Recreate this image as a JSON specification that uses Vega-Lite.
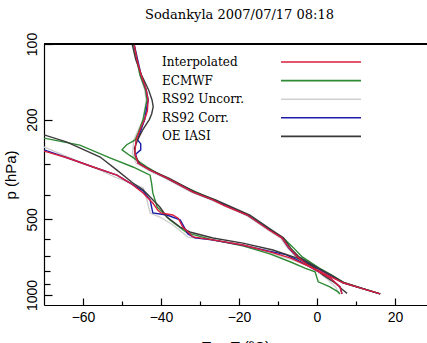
{
  "$schema": "https://vega.github.io/schema/vega-lite/v6.json",
  "width": 383,
  "height": 261,
  "autosize": {"type": "none"},
  "padding": {"left": 44, "top": 44, "right": 0, "bottom": 38},
  "background": "white",
  "title": {"text": "Sodankyla 2007/07/17 08:18", "font": "DejaVu Serif", "fontSize": 13, "fontWeight": "normal", "color": "black", "offset": 10, "dx": 4},
  "datasets": {
    "prof": [
      {"s":"RS92 Uncorr.","c":"T","p":100,"t":-47.2},{"s":"RS92 Uncorr.","c":"T","p":133,"t":-45.4},{"s":"RS92 Uncorr.","c":"T","p":152,"t":-44.2},{"s":"RS92 Uncorr.","c":"T","p":167,"t":-43.8},{"s":"RS92 Uncorr.","c":"T","p":200,"t":-44.6},{"s":"RS92 Uncorr.","c":"T","p":241,"t":-47.0},{"s":"RS92 Uncorr.","c":"T","p":272,"t":-47.3},{"s":"RS92 Uncorr.","c":"T","p":298,"t":-46.4},{"s":"RS92 Uncorr.","c":"T","p":318,"t":-43.3},{"s":"RS92 Uncorr.","c":"T","p":342,"t":-39.0},{"s":"RS92 Uncorr.","c":"T","p":389,"t":-32.3},{"s":"RS92 Uncorr.","c":"T","p":418,"t":-27.2},{"s":"RS92 Uncorr.","c":"T","p":480,"t":-18.3},{"s":"RS92 Uncorr.","c":"T","p":551,"t":-12.6},{"s":"RS92 Uncorr.","c":"T","p":592,"t":-9.4},{"s":"RS92 Uncorr.","c":"T","p":649,"t":-7.6},{"s":"RS92 Uncorr.","c":"T","p":705,"t":-5.4},{"s":"RS92 Uncorr.","c":"T","p":781,"t":-0.3},{"s":"RS92 Uncorr.","c":"T","p":833,"t":3.0},{"s":"RS92 Uncorr.","c":"T","p":894,"t":6.5},{"s":"RS92 Uncorr.","c":"T","p":936,"t":10.8},{"s":"RS92 Uncorr.","c":"T","p":990,"t":16.0},
      {"s":"RS92 Uncorr.","c":"Td","p":257,"t":-70},{"s":"RS92 Uncorr.","c":"Td","p":284,"t":-63.3},{"s":"RS92 Uncorr.","c":"Td","p":318,"t":-55.6},{"s":"RS92 Uncorr.","c":"Td","p":339,"t":-51.8},{"s":"RS92 Uncorr.","c":"Td","p":374,"t":-44.6},{"s":"RS92 Uncorr.","c":"Td","p":418,"t":-43.6},{"s":"RS92 Uncorr.","c":"Td","p":471,"t":-42.8},{"s":"RS92 Uncorr.","c":"Td","p":489,"t":-40.3},{"s":"RS92 Uncorr.","c":"Td","p":526,"t":-36.9},{"s":"RS92 Uncorr.","c":"Td","p":588,"t":-33.1},{"s":"RS92 Uncorr.","c":"Td","p":603,"t":-26.7},{"s":"RS92 Uncorr.","c":"Td","p":637,"t":-19.0},{"s":"RS92 Uncorr.","c":"Td","p":680,"t":-12.1},{"s":"RS92 Uncorr.","c":"Td","p":718,"t":-6.9},{"s":"RS92 Uncorr.","c":"Td","p":766,"t":-2.3},{"s":"RS92 Uncorr.","c":"Td","p":809,"t":0.3},{"s":"RS92 Uncorr.","c":"Td","p":870,"t":2.8},{"s":"RS92 Uncorr.","c":"Td","p":936,"t":4.9},{"s":"RS92 Uncorr.","c":"Td","p":990,"t":5.6},
      {"s":"ECMWF","c":"T","p":100,"t":-47.0},{"s":"ECMWF","c":"T","p":133,"t":-45.4},{"s":"ECMWF","c":"T","p":152,"t":-44.0},{"s":"ECMWF","c":"T","p":167,"t":-43.6},{"s":"ECMWF","c":"T","p":200,"t":-44.6},{"s":"ECMWF","c":"T","p":225,"t":-45.8},{"s":"ECMWF","c":"T","p":241,"t":-46.6},{"s":"ECMWF","c":"T","p":252,"t":-48.8},{"s":"ECMWF","c":"T","p":264,"t":-50.0},{"s":"ECMWF","c":"T","p":278,"t":-48.0},{"s":"ECMWF","c":"T","p":290,"t":-46.2},{"s":"ECMWF","c":"T","p":309,"t":-43.6},{"s":"ECMWF","c":"T","p":330,"t":-40.5},{"s":"ECMWF","c":"T","p":365,"t":-35.0},{"s":"ECMWF","c":"T","p":418,"t":-26.4},{"s":"ECMWF","c":"T","p":480,"t":-17.6},{"s":"ECMWF","c":"T","p":551,"t":-11.8},{"s":"ECMWF","c":"T","p":600,"t":-8.3},{"s":"ECMWF","c":"T","p":649,"t":-6.0},{"s":"ECMWF","c":"T","p":705,"t":-3.8},{"s":"ECMWF","c":"T","p":781,"t":0.6},{"s":"ECMWF","c":"T","p":833,"t":3.8},{"s":"ECMWF","c":"T","p":894,"t":7.0},{"s":"ECMWF","c":"T","p":936,"t":11.2},{"s":"ECMWF","c":"T","p":990,"t":16.2},
      {"s":"ECMWF","c":"Td","p":237,"t":-70},{"s":"ECMWF","c":"Td","p":253,"t":-60.8},{"s":"ECMWF","c":"Td","p":284,"t":-53.1},{"s":"ECMWF","c":"Td","p":309,"t":-47.2},{"s":"ECMWF","c":"Td","p":333,"t":-42.8},{"s":"ECMWF","c":"Td","p":360,"t":-42.4},{"s":"ECMWF","c":"Td","p":392,"t":-42.1},{"s":"ECMWF","c":"Td","p":446,"t":-41.0},{"s":"ECMWF","c":"Td","p":502,"t":-37.7},{"s":"ECMWF","c":"Td","p":566,"t":-33.3},{"s":"ECMWF","c":"Td","p":603,"t":-26.7},{"s":"ECMWF","c":"Td","p":637,"t":-19.0},{"s":"ECMWF","c":"Td","p":686,"t":-12.1},{"s":"ECMWF","c":"Td","p":737,"t":-6.9},{"s":"ECMWF","c":"Td","p":781,"t":-3.1},{"s":"ECMWF","c":"Td","p":809,"t":-0.5},{"s":"ECMWF","c":"Td","p":886,"t":0.3},{"s":"ECMWF","c":"Td","p":929,"t":3.3},{"s":"ECMWF","c":"Td","p":971,"t":5.4},{"s":"ECMWF","c":"Td","p":990,"t":5.9},
      {"s":"RS92 Corr.","c":"T","p":100,"t":-46.9},{"s":"RS92 Corr.","c":"T","p":133,"t":-45.1},{"s":"RS92 Corr.","c":"T","p":152,"t":-43.8},{"s":"RS92 Corr.","c":"T","p":167,"t":-43.3},{"s":"RS92 Corr.","c":"T","p":200,"t":-44.2},{"s":"RS92 Corr.","c":"T","p":241,"t":-46.0},{"s":"RS92 Corr.","c":"T","p":250,"t":-45.2},{"s":"RS92 Corr.","c":"T","p":264,"t":-45.2},{"s":"RS92 Corr.","c":"T","p":275,"t":-46.5},{"s":"RS92 Corr.","c":"T","p":298,"t":-45.9},{"s":"RS92 Corr.","c":"T","p":318,"t":-42.8},{"s":"RS92 Corr.","c":"T","p":342,"t":-38.5},{"s":"RS92 Corr.","c":"T","p":389,"t":-31.8},{"s":"RS92 Corr.","c":"T","p":418,"t":-26.7},{"s":"RS92 Corr.","c":"T","p":480,"t":-17.9},{"s":"RS92 Corr.","c":"T","p":551,"t":-12.1},{"s":"RS92 Corr.","c":"T","p":592,"t":-9.0},{"s":"RS92 Corr.","c":"T","p":649,"t":-7.3},{"s":"RS92 Corr.","c":"T","p":705,"t":-5.1},{"s":"RS92 Corr.","c":"T","p":781,"t":0},{"s":"RS92 Corr.","c":"T","p":833,"t":3.3},{"s":"RS92 Corr.","c":"T","p":894,"t":6.7},{"s":"RS92 Corr.","c":"T","p":936,"t":11.0},{"s":"RS92 Corr.","c":"T","p":990,"t":16.2},
      {"s":"RS92 Corr.","c":"Td","p":264,"t":-70},{"s":"RS92 Corr.","c":"Td","p":284,"t":-64.1},{"s":"RS92 Corr.","c":"Td","p":309,"t":-57.4},{"s":"RS92 Corr.","c":"Td","p":333,"t":-51.3},{"s":"RS92 Corr.","c":"Td","p":358,"t":-47.9},{"s":"RS92 Corr.","c":"Td","p":385,"t":-44.6},{"s":"RS92 Corr.","c":"Td","p":418,"t":-42.8},{"s":"RS92 Corr.","c":"Td","p":471,"t":-42.1},{"s":"RS92 Corr.","c":"Td","p":480,"t":-38.5},{"s":"RS92 Corr.","c":"Td","p":502,"t":-35.1},{"s":"RS92 Corr.","c":"Td","p":571,"t":-33.1},{"s":"RS92 Corr.","c":"Td","p":592,"t":-31.3},{"s":"RS92 Corr.","c":"Td","p":603,"t":-27.0},{"s":"RS92 Corr.","c":"Td","p":632,"t":-19.2},{"s":"RS92 Corr.","c":"Td","p":668,"t":-12.5},{"s":"RS92 Corr.","c":"Td","p":690,"t":-8.0},{"s":"RS92 Corr.","c":"Td","p":720,"t":-5.5},{"s":"RS92 Corr.","c":"Td","p":773,"t":-1.8},{"s":"RS92 Corr.","c":"Td","p":855,"t":3.3},{"s":"RS92 Corr.","c":"Td","p":929,"t":5.9},{"s":"RS92 Corr.","c":"Td","p":990,"t":6.4},
      {"s":"OE IASI","c":"T","p":100,"t":-47.4},{"s":"OE IASI","c":"T","p":115,"t":-46.5},{"s":"OE IASI","c":"T","p":133,"t":-45.0},{"s":"OE IASI","c":"T","p":152,"t":-43.2},{"s":"OE IASI","c":"T","p":167,"t":-42.3},{"s":"OE IASI","c":"T","p":178,"t":-42.0},{"s":"OE IASI","c":"T","p":190,"t":-42.4},{"s":"OE IASI","c":"T","p":200,"t":-43.0},{"s":"OE IASI","c":"T","p":220,"t":-44.7},{"s":"OE IASI","c":"T","p":241,"t":-46.0},{"s":"OE IASI","c":"T","p":260,"t":-46.8},{"s":"OE IASI","c":"T","p":280,"t":-46.6},{"s":"OE IASI","c":"T","p":300,"t":-45.4},{"s":"OE IASI","c":"T","p":320,"t":-42.2},{"s":"OE IASI","c":"T","p":342,"t":-38.0},{"s":"OE IASI","c":"T","p":389,"t":-31.2},{"s":"OE IASI","c":"T","p":418,"t":-26.0},{"s":"OE IASI","c":"T","p":480,"t":-17.2},{"s":"OE IASI","c":"T","p":551,"t":-11.6},{"s":"OE IASI","c":"T","p":592,"t":-8.6},{"s":"OE IASI","c":"T","p":649,"t":-6.8},{"s":"OE IASI","c":"T","p":705,"t":-4.6},{"s":"OE IASI","c":"T","p":781,"t":0.3},{"s":"OE IASI","c":"T","p":833,"t":3.6},{"s":"OE IASI","c":"T","p":894,"t":7.0},{"s":"OE IASI","c":"T","p":936,"t":11.2},{"s":"OE IASI","c":"T","p":990,"t":16.2},
      {"s":"OE IASI","c":"Td","p":230,"t":-70},{"s":"OE IASI","c":"Td","p":246,"t":-64.1},{"s":"OE IASI","c":"Td","p":282,"t":-55.6},{"s":"OE IASI","c":"Td","p":318,"t":-51.3},{"s":"OE IASI","c":"Td","p":358,"t":-47.2},{"s":"OE IASI","c":"Td","p":381,"t":-44.6},{"s":"OE IASI","c":"Td","p":407,"t":-42.8},{"s":"OE IASI","c":"Td","p":446,"t":-40.3},{"s":"OE IASI","c":"Td","p":489,"t":-38.5},{"s":"OE IASI","c":"Td","p":536,"t":-35.1},{"s":"OE IASI","c":"Td","p":561,"t":-32.6},{"s":"OE IASI","c":"Td","p":593,"t":-26.7},{"s":"OE IASI","c":"Td","p":621,"t":-19.0},{"s":"OE IASI","c":"Td","p":662,"t":-11.3},{"s":"OE IASI","c":"Td","p":713,"t":-5.1},{"s":"OE IASI","c":"Td","p":773,"t":-1.0},{"s":"OE IASI","c":"Td","p":832,"t":1.5},{"s":"OE IASI","c":"Td","p":900,"t":4.8},{"s":"OE IASI","c":"Td","p":950,"t":6.5},{"s":"OE IASI","c":"Td","p":985,"t":7.7},
      {"s":"Interpolated","c":"T","p":100,"t":-46.9},{"s":"Interpolated","c":"T","p":115,"t":-46.2},{"s":"Interpolated","c":"T","p":133,"t":-45.1},{"s":"Interpolated","c":"T","p":152,"t":-43.8},{"s":"Interpolated","c":"T","p":167,"t":-43.3},{"s":"Interpolated","c":"T","p":185,"t":-43.5},{"s":"Interpolated","c":"T","p":200,"t":-44.2},{"s":"Interpolated","c":"T","p":220,"t":-45.4},{"s":"Interpolated","c":"T","p":241,"t":-46.4},{"s":"Interpolated","c":"T","p":272,"t":-46.7},{"s":"Interpolated","c":"T","p":298,"t":-45.9},{"s":"Interpolated","c":"T","p":318,"t":-42.8},{"s":"Interpolated","c":"T","p":342,"t":-38.5},{"s":"Interpolated","c":"T","p":365,"t":-35.1},{"s":"Interpolated","c":"T","p":389,"t":-31.8},{"s":"Interpolated","c":"T","p":418,"t":-26.7},{"s":"Interpolated","c":"T","p":440,"t":-23.8},{"s":"Interpolated","c":"T","p":480,"t":-17.9},{"s":"Interpolated","c":"T","p":551,"t":-12.3},{"s":"Interpolated","c":"T","p":592,"t":-9.0},{"s":"Interpolated","c":"T","p":649,"t":-7.2},{"s":"Interpolated","c":"T","p":705,"t":-5.0},{"s":"Interpolated","c":"T","p":756,"t":-2.6},{"s":"Interpolated","c":"T","p":795,"t":0},{"s":"Interpolated","c":"T","p":850,"t":3.8},{"s":"Interpolated","c":"T","p":894,"t":6.7},{"s":"Interpolated","c":"T","p":936,"t":11.0},{"s":"Interpolated","c":"T","p":990,"t":16.2},
      {"s":"Interpolated","c":"Td","p":267,"t":-70},{"s":"Interpolated","c":"Td","p":284,"t":-64.1},{"s":"Interpolated","c":"Td","p":309,"t":-57.4},{"s":"Interpolated","c":"Td","p":333,"t":-51.3},{"s":"Interpolated","c":"Td","p":358,"t":-47.9},{"s":"Interpolated","c":"Td","p":392,"t":-44.6},{"s":"Interpolated","c":"Td","p":430,"t":-42.1},{"s":"Interpolated","c":"Td","p":460,"t":-40.8},{"s":"Interpolated","c":"Td","p":471,"t":-40.0},{"s":"Interpolated","c":"Td","p":480,"t":-37.0},{"s":"Interpolated","c":"Td","p":494,"t":-35.6},{"s":"Interpolated","c":"Td","p":536,"t":-34.4},{"s":"Interpolated","c":"Td","p":587,"t":-31.8},{"s":"Interpolated","c":"Td","p":603,"t":-26.7},{"s":"Interpolated","c":"Td","p":632,"t":-19.0},{"s":"Interpolated","c":"Td","p":673,"t":-12.1},{"s":"Interpolated","c":"Td","p":711,"t":-6.9},{"s":"Interpolated","c":"Td","p":773,"t":-1.8},{"s":"Interpolated","c":"Td","p":855,"t":3.3},{"s":"Interpolated","c":"Td","p":929,"t":5.9},{"s":"Interpolated","c":"Td","p":990,"t":6.4}
    ]
  },
  "data": {"name": "prof"},
  "layer": [
    {
      "mark": {"type": "line", "strokeWidth": 1.4, "clip": true},
      "encoding": {
        "x": {"field": "t", "type": "quantitative", "scale": {"domain": [-70, 28.2], "nice": false, "zero": false},
          "axis": {"orient": "bottom", "values": [-60,-50,-40,-30,-20,-10,0,10,20], "labelExpr": "datum.value % 20 === 0 ? format(datum.value, 'd') : ''",
            "tickSize": {"condition": {"test": "datum.value % 20 === 0", "value": -7}, "value": -4},
            "labelPadding": 12, "title": "Tₐᵢᵣ, T (ºC)", "titlePadding": 12, "labelOverlap": false}},
        "y": {"field": "p", "type": "quantitative", "scale": {"type": "log", "domain": [100, 1096], "reverse": true, "nice": false},
          "axis": {"orient": "left", "values": [100,200,300,400,500,600,700,800,900,1000], "labelExpr": "indexof([100,200,500,1000], datum.value) >= 0 ? format(datum.value, 'd') : ''",
            "tickSize": {"condition": {"test": "indexof([100,200,500,1000], datum.value) >= 0", "value": -8}, "value": -6},
            "labelAngle": 270, "labelAlign": "center", "labelBaseline": "alphabetic", "labelPadding": 16, "labelOverlap": false,
            "title": "p (hPa)", "titlePadding": 5}},
        "color": {"field": "s", "type": "nominal",
          "scale": {"domain": ["Interpolated","ECMWF","RS92 Uncorr.","RS92 Corr.","OE IASI"], "range": ["#d81e3c","#2f8a35","#cfcfcf","#1c1ca8","#3a3a3a"]},
          "legend": {"orient": "none", "legendX": 270, "legendY": 11, "symbolType": "M-6.667,0H6.667", "symbolSize": 144, "symbolStrokeWidth": 1.6, "labelOffset": -166, "labelFont": "DejaVu Serif", "labelFontSize": 12, "labelColor": "black", "rowPadding": 5.6, "padding": 0, "title": null, "labelLimit": 0}},
        "detail": {"field": "c"},
        "order": {"field": "p", "type": "quantitative"}
      }
    },
    {
      "mark": {"type": "rule", "color": "black", "strokeWidth": 1.2},
      "encoding": {
        "y": {"datum": 100, "type": "quantitative"}
      }
    }
  ],
  "config": {
    "view": {"stroke": null},
    "axis": {"domainColor": "black", "tickColor": "black", "grid": false, "labelFont": "Liberation Sans", "labelFontSize": 14, "labelColor": "black", "titleFont": "Liberation Sans", "titleFontSize": 15, "titleFontWeight": "normal", "titleColor": "black", "domainWidth": 1.2, "tickWidth": 1.2}
  }
}
